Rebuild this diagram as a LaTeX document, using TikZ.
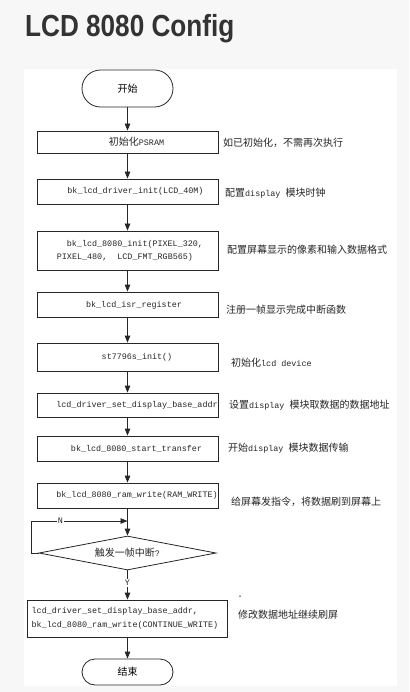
\documentclass[tikz,border=0pt]{standalone}
\usepackage{fontspec}
\setmainfont{Liberation Sans}
\newfontfamily\cjk{Noto Sans CJK SC}
\newfontfamily\monof{Liberation Mono}
\usetikzlibrary{shapes.geometric,arrows.meta}
\definecolor{ink}{HTML}{262626}
\definecolor{ttl}{HTML}{333333}
\definecolor{pagebg}{HTML}{F7F7F7}
\newcommand{\cn}[1]{{\cjk\fontsize{10}{12}\selectfont #1}}
\begin{document}
\begin{tikzpicture}[x=1pt,y=-1pt,
  box/.style={draw=ink, line width=0.8pt, minimum width=181pt, inner sep=0pt},
  term/.style={draw=ink, line width=0.8pt, minimum width=91pt, inner sep=0pt},
  code/.style={font=\monof\fontsize{8.4}{10}\selectfont, text=ink, inner sep=0pt},
  note/.style={anchor=west, font=\monof\fontsize{8.4}{10}\selectfont, text=ink, inner sep=0pt},
  flow/.style={draw=ink, line width=0.8pt, -{Triangle[length=7pt,width=5.5pt]}},
  lbl/.style={font=\monof\fontsize{8.4}{10}\selectfont, text=ink, fill=white, inner sep=1pt}
  ]
\useasboundingbox (0,0) rectangle (409,692);
\fill[pagebg] (0,0) rectangle (409,692);
\fill[white] (24,69) rectangle (397,686);

\node[anchor=base west, font=\bfseries\fontsize{30.5}{34}\selectfont, text=ttl, inner sep=0pt]
  (title) at (25,36.7) {\scalebox{0.857}[1]{LCD 8080 Config}};

% terminators
\node[term, minimum height=37pt, rounded corners=18.5pt] (start) at (127.5,88.5) {\cn{开始}};
\node[term, minimum height=26pt, rounded corners=13pt] (end) at (127.5,672) {\cn{结束}};

% boxes
\node[box, minimum height=22pt] (b1) at (127.5,142) {};
\node[box, minimum height=25pt] (b2) at (127.5,191.5) {};
\node[box, minimum height=39pt] (b3) at (127.5,250.5) {};
\node[box, minimum height=25pt] (b4) at (127.5,304.5) {};
\node[box, minimum height=28pt] (b5) at (127.5,357) {};
\node[box, minimum height=24pt] (b6) at (127.5,405) {};
\node[box, minimum height=25pt] (b7) at (127.5,448.5) {};
\node[box, minimum height=25pt] (b8) at (127.5,495.5) {};
\node[box, minimum height=37pt, minimum width=200.4pt] (b9) at (127.5,618.5) {};

% box texts
\node[code] (t1) at ([xshift=9pt]b1.center) {\cn{初始化}PSRAM};
\node[code] (t2) at ([xshift=8pt]b2.center) {bk\_lcd\_driver\_init(LCD\_40M)};
\node[code, anchor=west] (t3a) at (66.7,244.5) {bk\_lcd\_8080\_init(PIXEL\_320,};
\node[code, anchor=west] (t3b) at (56.7,257.5) {PIXEL\_480,\ \ LCD\_FMT\_RGB565)};
\node[code] (t4) at ([xshift=6.5pt,yshift=-0.5pt]b4.center) {bk\_lcd\_isr\_register};
\node[code] (t5) at ([xshift=9.5pt]b5.center) {st7796s\_init()};
\node[code] (t6) at ([xshift=9.5pt]b6.center) {lcd\_driver\_set\_display\_base\_addr};
\node[code] (t7) at ([xshift=9pt]b7.center) {bk\_lcd\_8080\_start\_transfer};
\node[code] (t8) at ([xshift=9.5pt]b8.center) {bk\_lcd\_8080\_ram\_write(RAM\_WRITE)};
\node[code, anchor=west] (t9a) at (31.5,611.7) {lcd\_driver\_set\_display\_base\_addr,};
\node[code, anchor=west] (t9b) at (31.5,625) {bk\_lcd\_8080\_ram\_write(CONTINUE\_WRITE)};

% decision
\node[draw=ink, line width=0.8pt, diamond, aspect=5.2, minimum width=177pt, minimum height=34pt, inner sep=0pt,
  font=\monof\fontsize{8.4}{10}\selectfont, text=ink] (dia) at (127.5,553) {\cn{触发一帧中断}?};

% notes
\node[note] (n1) at (223,143.3) {\cn{如已初始化，不需再次执行}};
\node[note] (n2) at (225,193) {\cn{配置}display \cn{模块时钟}};
\node[note] (n3) at (227,250) {\cn{配置屏幕显示的像素和输入数据格式}};
\node[note] (n4) at (226,310) {\cn{注册一帧显示完成中断函数}};
\node[note] (n5) at (231,363) {\cn{初始化}lcd device};
\node[note] (n6) at (229,405) {\cn{设置}display \cn{模块取数据的数据地址}};
\node[note] (n7) at (228,448.3) {\cn{开始}display \cn{模块数据传输}};
\node[note] (n8) at (231,501.7) {\cn{给屏幕发指令，将数据刷到屏幕上}};
\node[note] (n9) at (238,615) {\cn{修改数据地址继续刷屏}};
\node[circle, fill=blue, inner sep=0pt, minimum size=1.5pt] (dot) at (240,596) {};

% connectors
\draw[flow] (start.south) -- (b1.north);
\draw[flow] (b1.south) -- (b2.north);
\draw[flow] (b2.south) -- (b3.north);
\draw[flow] (b3.south) -- (b4.north);
\draw[flow] (b4.south) -- (b5.north);
\draw[flow] (b5.south) -- (b6.north);
\draw[flow] (b6.south) -- (b7.north);
\draw[flow] (b7.south) -- (b8.north);
\draw[flow] (b8.south) -- (dia.north);
\coordinate (lp1) at (31.5,553);
\coordinate (lp2) at (31.5,521);
\coordinate (mj) at (127.5,521);
\draw[flow] (dia.west) -- (lp1) -- (lp2) -- (mj);
\node[lbl] (nl) at (60.5,521) {N};
\draw[flow] (dia.south) -- (b9.north);
\node[lbl] (yl) at (127.5,583) {Y};
\draw[flow] (b9.south) -- (end.north);
\end{tikzpicture}
\end{document}
